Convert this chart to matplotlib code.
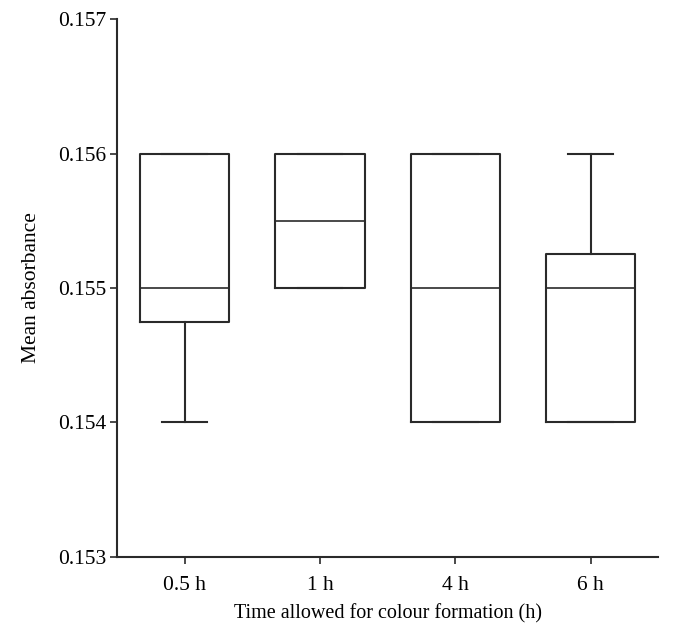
import matplotlib
matplotlib.use('Agg')
import matplotlib.pyplot as plt

plt.rcParams['font.family'] = ['Liberation Serif', 'DejaVu Serif']

labels = ['0.5 h', '1 h', '4 h', '6 h']
whislo = [0.154, 0.155, 0.154, 0.154]
q1 = [0.15475, 0.155, 0.154, 0.154]
med = [0.155, 0.1555, 0.155, 0.155]
q3 = [0.156, 0.156, 0.156, 0.15525]
whishi = [0.156, 0.156, 0.156, 0.156]
yticks = [0.153, 0.154, 0.155, 0.156, 0.157]

stats = []
for i, lab in enumerate(labels):
    stats.append(dict(label=lab, whislo=whislo[i], q1=q1[i], med=med[i],
                      q3=q3[i], whishi=whishi[i], fliers=[]))

fig = plt.figure(figsize=(6.73, 6.4), dpi=100)
ax = fig.add_axes([0.174, 0.13, 0.804, 0.84])

line_col = '#2a2a2a'
lw = 1.5
ax.bxp(stats, positions=[1, 2, 3, 4], widths=0.66, showfliers=False,
       boxprops=dict(color=line_col, linewidth=lw),
       medianprops=dict(color=line_col, linewidth=1.2),
       whiskerprops=dict(color=line_col, linewidth=lw),
       capprops=dict(color=line_col, linewidth=lw),
       capwidths=0.33)

ax.set_xlim(0.5, 4.5)
ax.set_ylim(0.153, 0.157)
ax.set_yticks(yticks)
ax.set_yticklabels([f'{v:.3f}' for v in yticks])
ax.set_xticks([1, 2, 3, 4])
ax.set_xticklabels(labels)

for s in ['top', 'right']:
    ax.spines[s].set_visible(False)
for s in ['left', 'bottom']:
    ax.spines[s].set_linewidth(lw)
    ax.spines[s].set_color(line_col)

ax.tick_params(axis='both', direction='out', length=5, width=1.2,
               color=line_col, labelsize=15.5)
ax.tick_params(axis='y', pad=3)
ax.tick_params(axis='x', pad=9)
ax.set_xlabel('Time allowed for colour formation (h)', fontsize=14.5, labelpad=6)
ax.set_ylabel('Mean absorbance', fontsize=15.5, labelpad=12)

fig.savefig('out.png', dpi=100)
